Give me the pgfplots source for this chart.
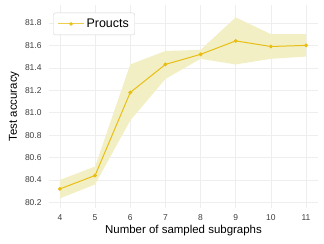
\documentclass[border=0pt]{standalone}
\usepackage{pgfplots}
\pgfplotsset{compat=1.18}
\usepackage{fontspec}
\setmainfont{Liberation Sans}
\usepgfplotslibrary{fillbetween}
\definecolor{linec}{RGB}{232,190,20}
\definecolor{bandc}{RGB}{243,239,196}
\definecolor{gridc}{RGB}{238,238,238}
\definecolor{tickc}{RGB}{60,60,60}
\begin{document}
\begin{tikzpicture}
\begin{axis}[
  scale only axis,
  width=269bp, height=203bp,
  xmin=3.69, xmax=11.34,
  ymin=80.15, ymax=81.96,
  xtick={4,5,6,7,8,9,10,11},
  ytick={80.2,80.4,80.6,80.8,81.0,81.2,81.4,81.6,81.8},
  yticklabel style={/pgf/number format/fixed,/pgf/number format/fixed zerofill,/pgf/number format/precision=1},
  /pgf/number format/assume math mode=true,
  axis line style={draw=none},
  major tick length=0pt,
  grid=major,
  major grid style={gridc, line width=0.6pt},
  tick label style={font=\fontsize{8.5}{10}\selectfont, text=tickc},
  xticklabel style={yshift=-3pt},
  yticklabel style={xshift=-4pt},
  xlabel={Number of sampled subgraphs},
  ylabel={Test accuracy},
  label style={font=\fontsize{11.5}{13}\selectfont},
  xlabel style={yshift=2pt},
  ylabel style={yshift=-1pt},
  legend style={font=\fontsize{12.5}{14}\selectfont, rounded corners=2pt, draw=gray!35, at={(0.016,0.962)}, anchor=north west, inner xsep=4pt, inner ysep=4pt},
  legend image code/.code={\draw[opacity=0.75, mark repeat=2,mark phase=2] plot coordinates {(0cm,0cm) (0.46cm,0cm) (0.92cm,0cm)};},
  legend cell align=left,
]
\addplot[name path=upper, draw=none, forget plot] coordinates {(4,80.40) (5,80.52) (6,81.43) (7,81.55) (8,81.56) (9,81.85) (10,81.70) (11,81.70)};
\addplot[name path=lower, draw=none, forget plot] coordinates {(4,80.235) (5,80.36) (6,80.93) (7,81.30) (8,81.48) (9,81.43) (10,81.48) (11,81.50)};
\addplot[bandc, forget plot] fill between[of=upper and lower];
\addplot[linec, line width=1pt, mark=*, mark size=1.4pt, mark options={fill=linec}] coordinates {(4,80.32) (5,80.44) (6,81.18) (7,81.43) (8,81.52) (9,81.64) (10,81.59) (11,81.60)};
\addlegendentry{Proucts}
\end{axis}
\pgfresetboundingbox
\path ([shift={(-49bp,-36bp)}]current axis.south west) rectangle ([shift={(6bp,5bp)}]current axis.north east);
\end{tikzpicture}
\end{document}
